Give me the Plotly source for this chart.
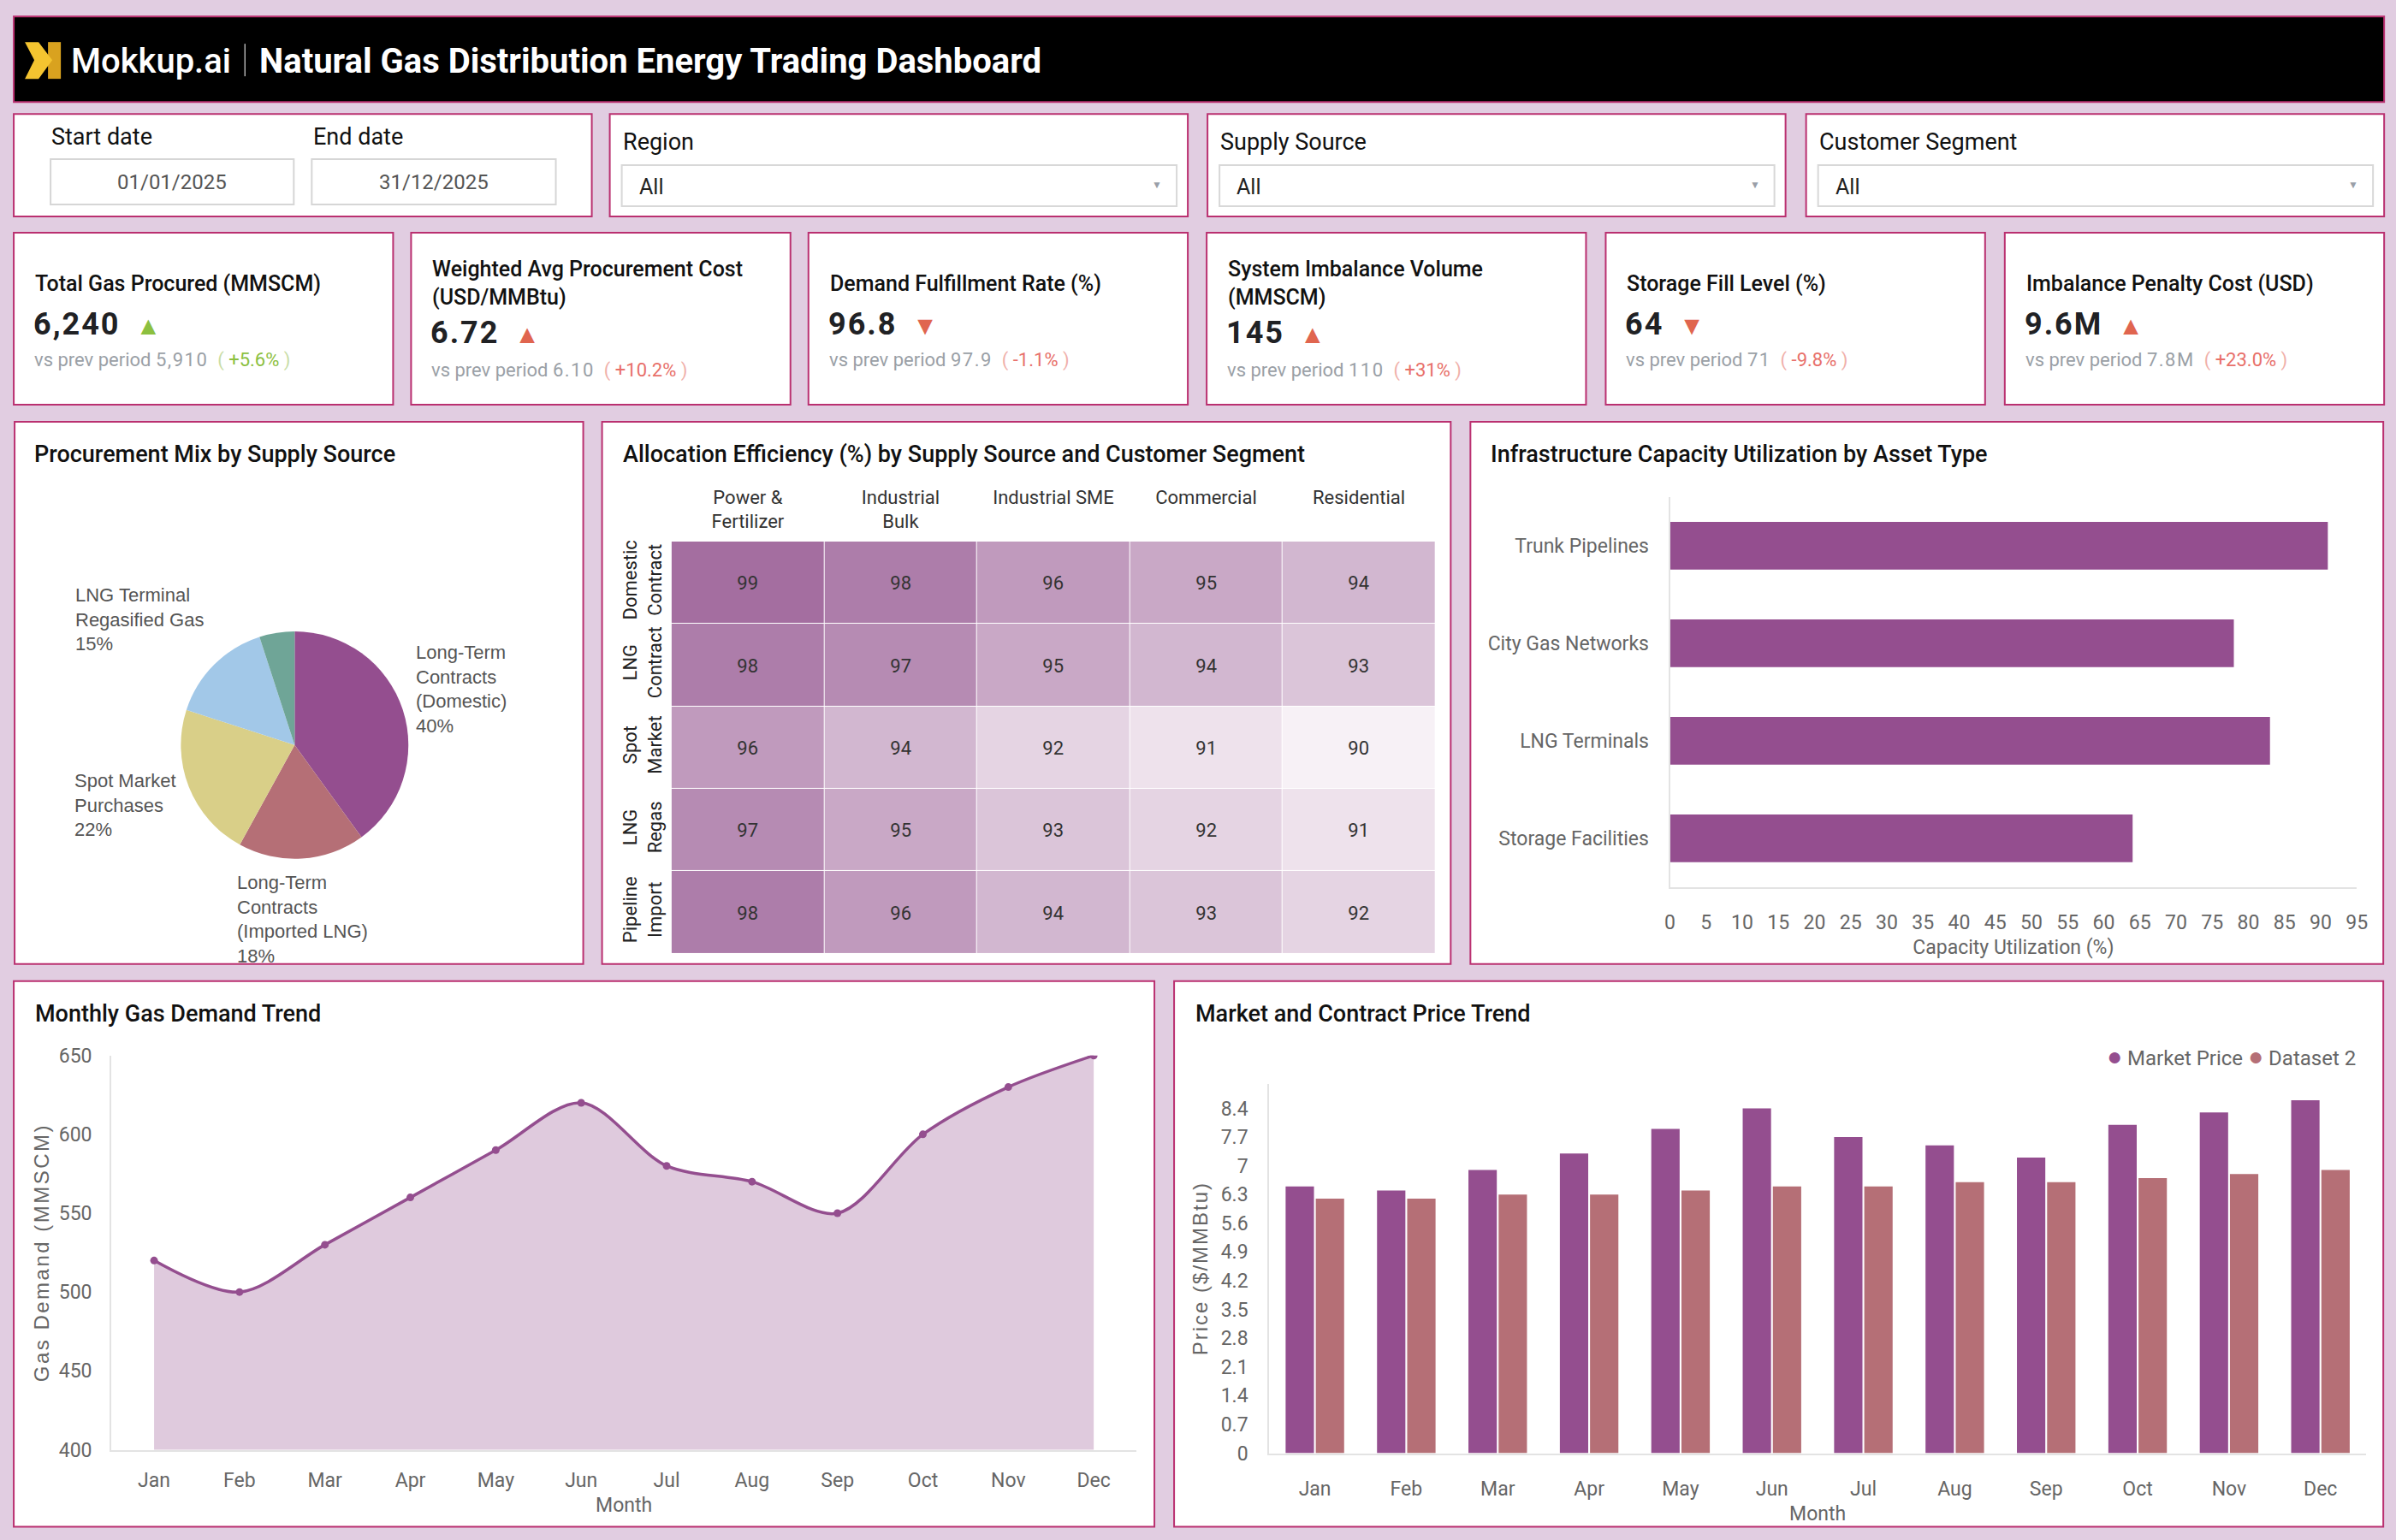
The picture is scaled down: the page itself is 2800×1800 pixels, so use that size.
import math
import plotly.graph_objects as go

# measured page capture: rendered = S * (margin + figure px); compensate so targets land on page pixels
SX, SY = 0.9925, 0.9855
MX, MY = 8, 12
FW = int(round(2800 / SX - 2 * MX)) + 8
FH = int(round(1800 / SY - 2 * MY)) + 12


def X(p):
    return (p / SX - MX) / FW


def Y(p):
    return 1 - (p / SY - MY) / FH


# ---------------- data ----------------
header_brand = "Mokkup.ai"
header_title = "Natural Gas Distribution Energy Trading Dashboard"

start_date = "01/01/2025"
end_date = "31/12/2025"
filter_labels = ["Region", "Supply Source", "Customer Segment"]
filter_values = ["All", "All", "All"]

kpi_titles = ["Total Gas Procured (MMSCM)",
              "Weighted Avg Procurement Cost<br>(USD/MMBtu)",
              "Demand Fulfillment Rate (%)",
              "System Imbalance Volume<br>(MMSCM)",
              "Storage Fill Level (%)",
              "Imbalance Penalty Cost (USD)"]
kpi_values = ["6,240", "6.72", "96.8", "145", "64", "9.6M"]
kpi_prev = ["5,910", "6.10", "97.9", "110", "71", "7.8M"]
kpi_change = ["+5.6%", "+10.2%", "-1.1%", "+31%", "-9.8%", "+23.0%"]
kpi_up = [True, True, False, True, False, True]
kpi_good = [True, False, False, False, False, False]

pie_labels = ["Long-Term<br>Contracts<br>(Domestic)",
              "Long-Term<br>Contracts<br>(Imported LNG)",
              "Spot Market<br>Purchases",
              "LNG Terminal<br>Regasified Gas",
              "Pipeline Imports"]
pie_values = [40, 18, 22, 15, 5]
pie_show_label = [True, True, True, True, False]

heat_cols = ["Power &<br>Fertilizer", "Industrial<br>Bulk", "Industrial SME<br>&nbsp;",
             "Commercial<br>&nbsp;", "Residential<br>&nbsp;"]
heat_rows = ["Domestic<br>Contract", "LNG<br>Contract", "Spot<br>Market", "LNG<br>Regas", "Pipeline<br>Import"]
heat_z = [[99, 98, 96, 95, 94],
          [98, 97, 95, 94, 93],
          [96, 94, 92, 91, 90],
          [97, 95, 93, 92, 91],
          [98, 96, 94, 93, 92]]

assets = ["Trunk Pipelines", "City Gas Networks", "LNG Terminals", "Storage Facilities"]
utilization = [91, 78, 83, 64]

months = ["Jan", "Feb", "Mar", "Apr", "May", "Jun", "Jul", "Aug", "Sep", "Oct", "Nov", "Dec"]
demand = [520, 500, 530, 560, 590, 620, 580, 570, 550, 600, 630, 650]
market_price = [6.5, 6.4, 6.9, 7.3, 7.9, 8.4, 7.7, 7.5, 7.2, 8.0, 8.3, 8.6]
dataset2 = [6.2, 6.2, 6.3, 6.3, 6.4, 6.5, 6.5, 6.6, 6.6, 6.7, 6.8, 6.9]

# ---------------- style ----------------
BG = "#E1CDE1"
BORDER = "#BA3070"
PURPLE = "#944E8F"
ROSE = "#B56F76"
PIE_COLORS = [PURPLE, ROSE, "#D9CF88", "#A2C8E8", "#6FA597"]
GREEN = "#8CC03F"
RED_TRI = "#E0654F"
RED_TXT = "#E8706A"
GRAY = "#9AA0A6"
TICK = "#666666"
FONT = "Roboto"

shapes = []
annotations = []


def panel(l, t, r, b, fill="white"):
    shapes.append(dict(type="rect", xref="paper", yref="paper", x0=X(l), x1=X(r), y0=Y(b), y1=Y(t),
                       fillcolor=fill, line=dict(color=BORDER, width=2), layer="below"))


def text(x, y, s, size, color="#111", weight=400, family=FONT, xanchor="left", yanchor="middle", align="left"):
    annotations.append(dict(xref="paper", yref="paper", x=X(x), y=Y(y), text=s, showarrow=False,
                            xanchor=xanchor, yanchor=yanchor, align=align,
                            font=dict(family=family, size=size, color=color, weight=weight)))


# header
panel(18, 18, 2786, 118, fill="black")
logo1 = "M {} {} L {} {} L {} {} L {} {} L {} {} L {} {} Z".format(
    X(31), Y(48), X(47), Y(48), X(63), Y(69), X(47), Y(91), X(31), Y(91), X(42), Y(69))
logo2 = "M {} {} L {} {} L {} {} L {} {} Z".format(X(58), Y(48), X(73), Y(48), X(73), Y(91), X(58), Y(91))
shapes.append(dict(type="path", xref="paper", yref="paper", path=logo2, fillcolor="#D9A21F", line=dict(width=0)))
shapes.append(dict(type="path", xref="paper", yref="paper", path=logo1, fillcolor="#F4C430", line=dict(width=0)))
shapes.append(dict(type="line", xref="paper", yref="paper", x0=X(288), x1=X(288), y0=Y(50), y1=Y(88),
                   line=dict(color="#B0B0B0", width=1.5)))
text(83, 70, header_brand, 40, color="white", weight=500)
text(303, 70, header_title, 40, color="white", weight=700)

# filters
panel(18, 132, 693, 252)
text(60, 159, "Start date", 27, color="#111")
text(366, 159, "End date", 27, color="#111")
for (l, r, s) in [(61, 345, start_date), (366, 651, end_date)]:
    shapes.append(dict(type="rect", xref="paper", yref="paper", x0=X(l), x1=X(r), y0=Y(238), y1=Y(185),
                       fillcolor="white", line=dict(color="#D6D6D6", width=2)))
    text((l + r) / 2, 212, s, 24, color="#555", xanchor="center")

for (l, r), lab, val in zip([(714, 1389), (1412, 2087), (2111, 2786)], filter_labels, filter_values):
    panel(l, 132, r, 252)
    text(l + 13, 165, lab, 27, color="#111")
    shapes.append(dict(type="rect", xref="paper", yref="paper", x0=X(l + 14), x1=X(r - 13), y0=Y(240), y1=Y(192),
                       fillcolor="white", line=dict(color="#D8D8D8", width=2)))
    text(l + 32, 217, val, 25, color="#222")
    text(r - 36, 215, "▼", 12, color="#9A9FA8", xanchor="center")

# KPI cards
kpi_left = [18, 482, 946, 1411, 1877, 2343]
for i, l in enumerate(kpi_left):
    panel(l, 271, l + 443, 472)
    two = "<br>" in kpi_titles[i]
    ty, vy, py_ = (330, 388, 432) if two else (330, 378, 420)
    text(l + 23, ty, kpi_titles[i], 25, color="#111", weight=500)
    tri_col = GREEN if kpi_good[i] else RED_TRI
    txt_col = GREEN if kpi_good[i] else RED_TXT
    par_col = "#C9DDA6" if kpi_good[i] else "#F0B0AA"
    tri = "▲" if kpi_up[i] else "▼"
    text(l + 21, vy,
         "<span style='letter-spacing:2px'>{}</span>&nbsp;&nbsp;<span style='font-size:30px;color:{}'>{}</span>".format(
             kpi_values[i], tri_col, tri), 36, color="#202124", weight=700)
    text(l + 22, py_,
         "vs prev period <span style='letter-spacing:1.5px'>{}</span>&nbsp;&nbsp;<span style='color:{}'>( </span>"
         "<span style='color:{}'>{}</span><span style='color:{}'> )</span>".format(
             kpi_prev[i], par_col, txt_col, kpi_change[i], par_col), 22, color=GRAY)

# middle and bottom panels
panel(19, 492, 683, 1126)
panel(705, 492, 1696, 1126)
panel(1719, 492, 2785, 1126)
panel(18, 1146, 1350, 1784)
panel(1373, 1146, 2785, 1784)
text(40, 530, "Procurement Mix by Supply Source", 27, weight=500)
text(727, 530, "Allocation Efficiency (%) by Supply Source and Customer Segment", 27, weight=500)
text(1741, 530, "Infrastructure Capacity Utilization by Asset Type", 27, weight=500)
text(41, 1184, "Monthly Gas Demand Trend", 27, weight=500)
text(1396, 1184, "Market and Contract Price Trend", 27, weight=500)

# legend for price chart
text(2755, 1234,
     "<span style='font-size:30px;color:{}'>●</span> Market Price <span style='font-size:30px;color:{}'>●</span> Dataset 2".format(
         PURPLE, ROSE),
     24, color=TICK, xanchor="right")

# pie geometry (pixels) and outside labels computed from slice mid-angles
PIE_CX, PIE_CY, PIE_R = 346, 870, 133
total = float(sum(pie_values))
cum = 0.0
for lab, v, show in zip(pie_labels, pie_values, pie_show_label):
    mid = (cum + v / 2.0) / total * 2 * math.pi
    cum += v
    if not show:
        continue
    s, c = math.sin(mid), math.cos(mid)
    ax = PIE_CX + (PIE_R + 14) * s
    ay = PIE_CY - (PIE_R + 14) * c
    xa = "left" if s > 0.3 else ("right" if s < -0.3 else "center")
    ya = "bottom" if c > 0.5 else ("top" if c < -0.5 else "middle")
    if ya == "middle":
        ay += -20 if s > 0 else 16
    text(ax, ay, "{}<br>{}%".format(lab, int(round(v / total * 100))), 22, color="#555",
         family="Liberation Sans", xanchor=xa, yanchor=ya, align="left")

fig = go.Figure()

fig.add_trace(go.Pie(
    labels=pie_labels, values=pie_values, sort=False, direction="clockwise", rotation=0,
    marker=dict(colors=PIE_COLORS, line=dict(width=0)),
    textinfo="none", hoverinfo="label+percent", showlegend=False,
    domain=dict(x=[X(PIE_CX - PIE_R), X(PIE_CX + PIE_R)], y=[Y(PIE_CY + PIE_R), Y(PIE_CY - PIE_R)]),
))

fig.add_trace(go.Heatmap(
    z=heat_z, x=heat_cols, y=heat_rows, xaxis="x", yaxis="y",
    colorscale=[[0, "#F7F1F6"], [1, "#A46EA0"]], zmin=90, zmax=99, showscale=False,
    xgap=1, ygap=1, texttemplate="%{z}", textfont=dict(family=FONT, size=22, color="#333"),
))

fig.add_trace(go.Bar(
    x=utilization, y=assets, orientation="h", xaxis="x2", yaxis="y2",
    marker=dict(color=PURPLE, line=dict(width=0)), width=0.49, showlegend=False,
))

fig.add_trace(go.Scatter(
    x=months, y=demand, xaxis="x3", yaxis="y3", mode="lines+markers",
    line=dict(color=PURPLE, width=3.5, shape="spline", smoothing=0.9),
    marker=dict(size=9, color=PURPLE),
    fill="tozeroy", fillcolor="rgba(148,78,143,0.30)", showlegend=False,
))

fig.add_trace(go.Bar(x=months, y=market_price, name="Market Price", xaxis="x4", yaxis="y4",
                     marker=dict(color=PURPLE, line=dict(width=0)), showlegend=False))
fig.add_trace(go.Bar(x=months, y=dataset2, name="Dataset 2", xaxis="x4", yaxis="y4",
                     marker=dict(color=ROSE, line=dict(width=0)), showlegend=False))

tickfont = dict(family=FONT, size=23, color=TICK)
titlefont = dict(family=FONT, size=23, color=TICK)
ytitlefont = dict(family="Liberation Sans", size=24, color=TICK)
hide_tick = dict(ticks="outside", tickcolor="rgba(0,0,0,0)")
axis_line = dict(showline=True, linecolor="#E3E3E3", linewidth=2, showgrid=False, zeroline=False)

fig.update_layout(
    width=FW, height=FH, autosize=False,
    margin=dict(l=0, r=0, t=0, b=0, pad=0),
    paper_bgcolor=BG, plot_bgcolor="rgba(0,0,0,0)",
    font=dict(family=FONT, color=TICK),
    shapes=shapes, annotations=annotations,
    bargap=0.34, bargroupgap=0.06, barmode="group",
    xaxis=dict(domain=[X(786), X(1678)], side="top", anchor="y", showgrid=False, zeroline=False,
               tickfont=dict(family=FONT, size=22, color="#333"), ticklen=6, **hide_tick),
    yaxis=dict(domain=[Y(1114), Y(632)], anchor="x", autorange="reversed", showgrid=False, zeroline=False,
               tickangle=-90, tickfont=dict(family=FONT, size=22, color="#222"), ticklen=2, **hide_tick),
    xaxis2=dict(domain=[X(1952), X(2754)], anchor="y2", range=[0, 95], dtick=5, tick0=0,
                tickfont=tickfont, ticklen=20, title=dict(text="Capacity Utilization (%)", font=titlefont, standoff=8),
                **axis_line, **hide_tick),
    yaxis2=dict(domain=[Y(1036), Y(580)], anchor="x2", autorange="reversed",
                tickfont=tickfont, ticklen=18, **axis_line, **hide_tick),
    xaxis3=dict(domain=[X(132), X(1329)], anchor="y3", range=[-0.5, 11.5], type="category",
                tickfont=tickfont, ticklen=14, title=dict(text="Month", font=titlefont, standoff=8),
                **axis_line, **hide_tick),
    yaxis3=dict(domain=[Y(1694), Y(1233)], anchor="x3", range=[400, 650], dtick=50,
                tickfont=tickfont, ticklen=16,
                title=dict(text="<span style='letter-spacing:2.5px'>Gas Demand (MMSCM)</span>", font=ytitlefont,
                           standoff=4),
                **axis_line, **hide_tick),
    xaxis4=dict(domain=[X(1484), X(2765)], anchor="y4", type="category",
                tickfont=tickfont, ticklen=20, title=dict(text="Month", font=titlefont, standoff=8),
                **axis_line, **hide_tick),
    yaxis4=dict(domain=[Y(1698), Y(1266)], anchor="x4", range=[0, 9.0], dtick=0.7, tick0=0,
                tickfont=tickfont, ticklen=18,
                title=dict(text="<span style='letter-spacing:2px'>Price ($/MMBtu)</span>", font=ytitlefont,
                           standoff=8),
                **axis_line, **hide_tick),
)

fig.write_html("out.html")
